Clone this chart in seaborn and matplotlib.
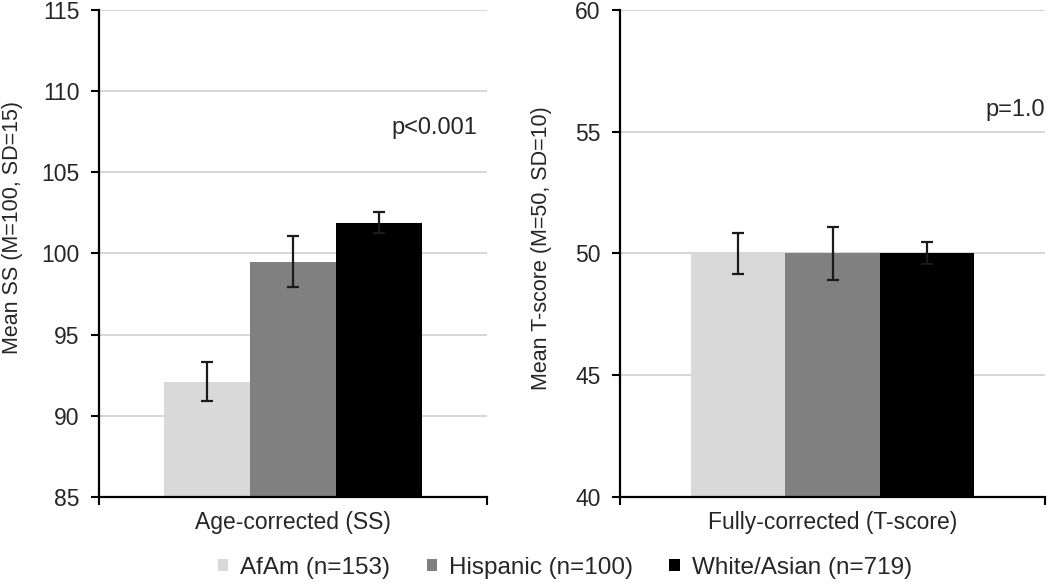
import pandas as pd
import matplotlib.pyplot as plt
import seaborn as sns

# values
groups = ['AfAm (n=153)', 'Hispanic (n=100)', 'White/Asian (n=719)']
colors = ['#d9d9d9', '#808080', '#000000']

ss_means = [92.1, 99.5, 101.9]
ss_errs = [1.2, 1.55, 0.65]
t_means = [50.0, 50.0, 50.0]
t_errs = [0.85, 1.1, 0.45]

panels = [
    {'cat': 'Age-corrected (SS)', 'means': ss_means, 'errs': ss_errs,
     'ylabel': 'Mean SS (M=100, SD=15)', 'ylim': (85, 115), 'step': 5,
     'ptext': 'p<0.001', 'py': 107.7, 'px': 0.975, 'label_xy': (-0.196, 0.553)},
    {'cat': 'Fully-corrected (T-score)', 'means': t_means, 'errs': t_errs,
     'ylabel': 'Mean T-score (M=50, SD=10)', 'ylim': (40, 60), 'step': 5,
     'ptext': 'p=1.0', 'py': 55.9, 'px': 1.0, 'label_xy': (-0.16, 0.51)},
]

sns.set_style('white')
plt.rcParams['font.family'] = ['Liberation Sans', 'DejaVu Sans']
plt.rcParams['font.size'] = 16

fig = plt.figure(figsize=(10.5, 5.86), dpi=100)
ax_pos = [[99 / 1050, 0.152, 388 / 1050, 0.831],
          [620 / 1050, 0.152, 425 / 1050, 0.831]]

for pos, p in zip(ax_pos, panels):
    ax = fig.add_axes(pos)
    df = pd.DataFrame({'cat': [p['cat']] * 3, 'group': groups, 'mean': p['means']})
    sns.barplot(data=df, x='cat', y='mean', hue='group', palette=colors,
                hue_order=groups, width=0.667, gap=0, errorbar=None,
                saturation=1, ax=ax, legend=(pos is ax_pos[0]),
                edgecolor='none', zorder=2)
    bars = [b for b in ax.patches if b.get_height() > 0][:3]
    for b, e in zip(bars, p['errs']):
        ax.errorbar(b.get_x() + b.get_width() / 2, b.get_height(), yerr=e,
                    fmt='none', ecolor='#1a1a1a', elinewidth=1.6,
                    capsize=4.5, capthick=1.6, zorder=3)

    lo, hi = p['ylim']
    ax.set_ylim(lo, hi)
    ax.set_xlim(-0.5, 0.5)
    ax.set_yticks(range(lo, hi + 1, p['step']))
    ax.yaxis.grid(True, color='#cccccc', linewidth=1.1, zorder=0)
    ax.set_axisbelow(True)
    ax.set_ylabel(p['ylabel'], fontsize=15.5)
    ax.yaxis.set_label_coords(*p['label_xy'])
    ax.set_xlabel('')
    ax.tick_params(axis='x', which='major', bottom=False, length=0, pad=10,
                   labelsize=16.5)
    ax.set_xticks([-0.5, 0.5], minor=True)
    ax.tick_params(axis='x', which='minor', bottom=True, length=6, width=1.5,
                   color='black')
    ax.tick_params(axis='y', left=True, length=6, width=1.5, color='black',
                   labelsize=16.5, pad=8)
    for side in ['top', 'right']:
        ax.spines[side].set_visible(False)
    for side in ['left', 'bottom']:
        ax.spines[side].set_color('black')
        ax.spines[side].set_linewidth(1.6)
    ax.text(p['px'], p['py'], p['ptext'], transform=ax.get_yaxis_transform(),
            ha='right', va='center', fontsize=17)

    if ax.get_legend() is not None:
        handles, labels = ax.get_legend_handles_labels()
        ax.get_legend().remove()
        fig.legend(handles, labels, loc='center', bbox_to_anchor=(0.538, 0.031),
                   ncol=3, frameon=False, fontsize=17.5, handlelength=0.42,
                   handleheight=0.42, handletextpad=0.5, columnspacing=1.5)

fig.savefig('out.png', dpi=100)
